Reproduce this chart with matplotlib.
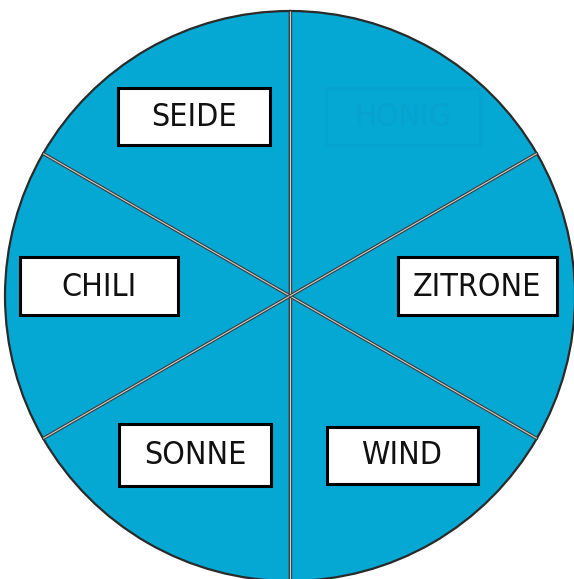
import matplotlib
matplotlib.use('Agg')
import numpy as np
import matplotlib.pyplot as plt
from matplotlib.patches import Rectangle

plt.rcParams['font.family'] = ['Liberation Sans Narrow', 'DejaVu Sans']

# six equal slices
labels = ['SEIDE', 'HONIG', 'ZITRONE', 'WIND', 'SONNE', 'CHILI']
values = [1, 1, 1, 1, 1, 1]

# label box centres and sizes (pixels)
box_x = [194, 403, 477, 402, 195, 99]
box_y = [116, 116, 286, 455, 455, 286]
box_w = [152, 154, 159, 151, 152, 158]
box_h = [57, 57, 58, 57, 62, 58]
hidden = [False, True, False, False, False, False]

blue = '#04a8d3'
cx, cy, r = 290, 296, 285

fig = plt.figure(figsize=(5.74, 5.79), dpi=100)
ax = fig.add_axes([0, 0, 1, 1])

ax.pie(values, center=(cx, cy), radius=r, startangle=90,
       colors=[blue] * 6,
       wedgeprops=dict(edgecolor='#2a2a2a', linewidth=1.6))
ax.set_xlim(0, 574)
ax.set_ylim(579, 0)
ax.set_aspect('equal')
ax.axis('off')

# spokes: dark outline with a pale centre, like the original
angles = 90 + 360 * np.cumsum([0] + values[:-1]) / sum(values)
for a in np.radians(angles):
    xs = [cx, cx + r * np.cos(a)]
    ys = [cy, cy - r * np.sin(a)]
    ax.plot(xs, ys, color='#3c3c3c', lw=2.4, solid_capstyle='butt', zorder=3)
    ax.plot(xs, ys, color='#cfcfcf', lw=0.8, solid_capstyle='butt', zorder=3)

for lab, x, y, w, h, hid in zip(labels, box_x, box_y, box_w, box_h, hidden):
    if hid:
        fc, ec, tc = blue, '#07a3cf', '#07a2ce'
    else:
        fc, ec, tc = 'white', 'black', '#111111'
    ax.add_patch(Rectangle((x - w / 2, y - h / 2), w, h, facecolor=fc,
                           edgecolor=ec, linewidth=2.2, zorder=5))
    ax.text(x, y + 1, lab, ha='center', va='center', fontsize=23,
            fontstretch='condensed', color=tc, zorder=6)

fig.savefig('out.png', dpi=100)
